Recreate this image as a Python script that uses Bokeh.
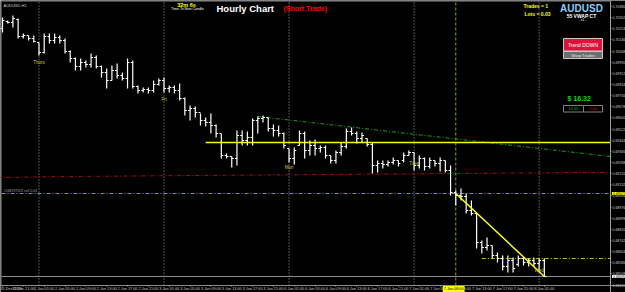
from bokeh.plotting import figure
from bokeh.models import Range1d, FixedTicker, PrintfTickFormatter, Label
from bokeh.embed import file_html
from bokeh.resources import INLINE
from bokeh.core.properties import value

# ---------------- data (AUDUSD H1, 31 Dec 2019 17:00 -> 8 Jan 2020 01:00) ----------------
high = [0.70303, 0.70282, 0.70317, 0.70296, 0.70191, 0.70177, 0.70177, 0.70128, 0.70191, 0.70191,
        0.70191, 0.70177, 0.70156, 0.70072, 0.70023, 0.70016, 0.70002, 0.70051, 0.70037, 0.69967,
        0.69946, 0.69967, 0.69981, 0.69918, 0.70016, 0.70002, 0.69827, 0.69813, 0.69813, 0.69862,
        0.69876, 0.69883, 0.69827, 0.69827, 0.69841, 0.69743, 0.69687, 0.69680, 0.69631, 0.69603,
        0.69631, 0.69554, 0.69491, 0.69351, 0.69330, 0.69512, 0.69512, 0.69505, 0.69596, 0.69610,
        0.69617, 0.69603, 0.69554, 0.69547, 0.69498, 0.69386, 0.69393, 0.69512, 0.69505, 0.69442,
        0.69449, 0.69407, 0.69407, 0.69337, 0.69372, 0.69428, 0.69526, 0.69533, 0.69505, 0.69498,
        0.69456, 0.69428, 0.69302, 0.69302, 0.69302, 0.69323, 0.69302, 0.69358, 0.69372, 0.69358,
        0.69337, 0.69323, 0.69323, 0.69302, 0.69323, 0.69302, 0.69267, 0.69092, 0.69106, 0.69071,
        0.69022, 0.68931, 0.68742, 0.68763, 0.68707, 0.68658, 0.68637, 0.68637, 0.68623, 0.68637,
        0.68623, 0.68616, 0.68623, 0.68616, 0.68616]
low = [0.70198, 0.70261, 0.70233, 0.70156, 0.70156, 0.70142, 0.70128, 0.70037, 0.70051, 0.70121,
       0.70121, 0.70121, 0.70051, 0.69988, 0.69932, 0.69932, 0.69953, 0.69953, 0.69946, 0.69883,
       0.69806, 0.69862, 0.69876, 0.69862, 0.69806, 0.69806, 0.69771, 0.69778, 0.69771, 0.69778,
       0.69827, 0.69778, 0.69778, 0.69771, 0.69722, 0.69617, 0.69582, 0.69603, 0.69547, 0.69540,
       0.69491, 0.69463, 0.69316, 0.69316, 0.69253, 0.69267, 0.69407, 0.69407, 0.69407, 0.69491,
       0.69568, 0.69505, 0.69470, 0.69470, 0.69386, 0.69288, 0.69274, 0.69407, 0.69316, 0.69337,
       0.69337, 0.69358, 0.69316, 0.69281, 0.69281, 0.69337, 0.69386, 0.69477, 0.69421, 0.69428,
       0.69400, 0.69211, 0.69218, 0.69246, 0.69260, 0.69274, 0.69260, 0.69288, 0.69337, 0.69232,
       0.69246, 0.69232, 0.69246, 0.69260, 0.69225, 0.69218, 0.69057, 0.68987, 0.69022, 0.68931,
       0.68917, 0.68686, 0.68651, 0.68672, 0.68616, 0.68588, 0.68532, 0.68518, 0.68518, 0.68560,
       0.68567, 0.68560, 0.68560, 0.68518, 0.68490]
open_ = [0.70226, 0.70275, 0.70268, 0.70289, 0.70170, 0.70177, 0.70156, 0.70128, 0.70058, 0.70170,
         0.70142, 0.70163, 0.70142, 0.70065, 0.70016, 0.69960, 0.69988, 0.69974, 0.70023, 0.69960,
         0.69918, 0.69862, 0.69932, 0.69897, 0.69876, 0.69988, 0.69820, 0.69792, 0.69799, 0.69792,
         0.69834, 0.69862, 0.69806, 0.69813, 0.69792, 0.69736, 0.69652, 0.69666, 0.69638, 0.69582,
         0.69568, 0.69547, 0.69491, 0.69337, 0.69330, 0.69316, 0.69477, 0.69442, 0.69463, 0.69582,
         0.69596, 0.69603, 0.69526, 0.69512, 0.69491, 0.69386, 0.69316, 0.69407, 0.69491, 0.69372,
         0.69407, 0.69386, 0.69393, 0.69337, 0.69302, 0.69358, 0.69400, 0.69505, 0.69491, 0.69456,
         0.69456, 0.69414, 0.69267, 0.69281, 0.69274, 0.69288, 0.69302, 0.69302, 0.69337, 0.69358,
         0.69267, 0.69316, 0.69260, 0.69302, 0.69281, 0.69302, 0.69232, 0.69078, 0.69057, 0.69050,
         0.68952, 0.68931, 0.68728, 0.68693, 0.68707, 0.68637, 0.68616, 0.68560, 0.68602, 0.68574,
         0.68616, 0.68588, 0.68602, 0.68581, 0.68602]
close = [0.70282, 0.70268, 0.70296, 0.70170, 0.70177, 0.70156, 0.70135, 0.70058, 0.70170, 0.70142,
         0.70163, 0.70142, 0.70065, 0.70016, 0.69960, 0.69988, 0.69974, 0.70023, 0.69960, 0.69918,
         0.69862, 0.69932, 0.69897, 0.69876, 0.69988, 0.69820, 0.69792, 0.69799, 0.69792, 0.69834,
         0.69862, 0.69806, 0.69813, 0.69792, 0.69736, 0.69652, 0.69666, 0.69638, 0.69582, 0.69568,
         0.69547, 0.69491, 0.69337, 0.69330, 0.69316, 0.69477, 0.69442, 0.69463, 0.69582, 0.69596,
         0.69603, 0.69526, 0.69512, 0.69491, 0.69407, 0.69316, 0.69372, 0.69491, 0.69372, 0.69407,
         0.69386, 0.69393, 0.69337, 0.69302, 0.69358, 0.69400, 0.69505, 0.69491, 0.69456, 0.69477,
         0.69414, 0.69267, 0.69281, 0.69274, 0.69288, 0.69302, 0.69281, 0.69337, 0.69358, 0.69267,
         0.69316, 0.69260, 0.69302, 0.69281, 0.69302, 0.69232, 0.69078, 0.69057, 0.69050, 0.68952,
         0.68931, 0.68728, 0.68693, 0.68707, 0.68637, 0.68616, 0.68560, 0.68602, 0.68546, 0.68616,
         0.68588, 0.68602, 0.68581, 0.68602, 0.68490]
bar = list(range(len(high)))

time_tick_bars = [0, 4, 8, 12, 16, 20, 24, 28, 32, 36, 40, 44, 48, 52, 56, 60, 64, 68, 72, 76,
                  80, 84, 88, 92, 96, 100, 104]
time_tick_labels = ["31 Dec 2019", "31 Dec 21:00", "2 Jan 01:00", "2 Jan 05:00", "2 Jan 09:00",
                    "2 Jan 13:00", "2 Jan 17:00", "2 Jan 21:00", "3 Jan 01:00", "3 Jan 05:00",
                    "3 Jan 09:00", "3 Jan 13:00", "3 Jan 17:00", "3 Jan 21:00", "6 Jan 01:00",
                    "6 Jan 05:00", "6 Jan 09:00", "6 Jan 13:00", "6 Jan 17:00", "6 Jan 21:00",
                    "7 Jan 01:00", "7 Jan 05:00", "7 Jan 09:00", "7 Jan 13:00", "7 Jan 17:00",
                    "7 Jan 21:00", "8 Jan 01:00"]
price_ticks = [0.70380, 0.70302, 0.70224, 0.70146, 0.70068, 0.69990, 0.69912, 0.69834, 0.69756,
               0.69678, 0.69600, 0.69522, 0.69444, 0.69366, 0.69288, 0.69210, 0.69132, 0.69054,
               0.68976, 0.68898, 0.68820, 0.68742, 0.68664, 0.68586, 0.68508, 0.68430]

day_sep_bars = [7, 31, 55, 79, 103]
day_names = ["Thurs", "Fri", "Mon", "Tues", "Wed"]
day_name_price = [0.69988, 0.69729, 0.69253, 0.69281, 0.68532]

resistance_level = 0.69428
resistance_start = 39
green_trend_x = [49, 116.7]
green_trend_y = [0.69610, 0.69330]
vwap_x = [-1, 13, 37, 112, 116.7]
vwap_y = [0.69183, 0.69190, 0.69197, 0.69218, 0.69218]
entry_price = 0.69071
entry_bar = 87
target_price = 0.68616
target_start = 92
bid_price = 0.68490
down_trend_x = [87, 104]
down_trend_y = [0.69071, 0.68490]

# ---------------- layout helpers (pixel <-> data for decorations) ----------------
W, H = 625, 292
PX0, PPB = 2.0, 5.21          # pixel of bar 0, pixels per bar
P_TOP, PPP = 0.70422, 0.00007  # price at pixel row 0, price per pixel
AX_X, AX_Y = 610, 285          # pixel column of price scale, pixel row of time scale


def X(px):
    return (px - PX0) / PPB


def Y(py):
    return P_TOP - py * PPP


FONT = "Liberation Sans"

p = figure(width=W, height=H, output_backend="svg", toolbar_location=None,
           x_range=Range1d(X(0), X(W)), y_range=Range1d(Y(H), Y(0)),
           y_axis_location="right",
           background_fill_color="black", border_fill_color="black",
           min_border_left=0, min_border_top=0, min_border_right=0, min_border_bottom=0,
           outline_line_color=None)
p.grid.visible = False

# bottom time axis (pinned to the chart's bottom edge)
xa = p.xaxis[0]
xa.fixed_location = Y(AX_Y)
xa.ticker = FixedTicker(ticks=time_tick_bars)
xa.major_label_overrides = {b: t for b, t in zip(time_tick_bars, time_tick_labels)}
xa.major_label_text_font_size = "3.8px"
xa.major_label_text_font = FONT
xa.major_label_text_color = "#c8c8c8"
xa.major_label_text_align = "left"
xa.major_label_standoff = 0
xa.major_tick_out = 1
xa.major_tick_in = 0
xa.minor_tick_out = 0
xa.minor_tick_in = 0
xa.major_tick_line_color = "#a0a0a0"
xa.axis_line_color = "#8c8c8c"

# right price axis (pinned to the price-scale column)
ya = p.yaxis[0]
ya.fixed_location = X(AX_X)
ya.ticker = FixedTicker(ticks=price_ticks)
ya.formatter = PrintfTickFormatter(format="%.5f")
ya.major_label_text_font_size = "3.5px"
ya.major_label_text_font = FONT
ya.major_label_text_color = "#c8c8c8"
ya.major_label_standoff = 1
ya.major_tick_out = 1
ya.major_tick_in = 0
ya.minor_tick_out = 0
ya.minor_tick_in = 0
ya.major_tick_line_color = "#a0a0a0"
ya.axis_line_color = "#a0a0a0"

# chart border (left / top)
p.line(x=[X(0.5), X(0.5)], y=[Y(AX_Y), Y(0)], line_color="#8c8c8c", line_width=1)
p.line(x=[X(0), X(AX_X)], y=[Y(0.5), Y(0.5)], line_color="#8c8c8c", line_width=1)

# day separators and entry-time line
p.segment(x0=day_sep_bars, x1=day_sep_bars, y0=Y(AX_Y), y1=Y(1), line_color="#a0a0a0",
          line_dash="1 2", line_width=1)
p.segment(x0=[entry_bar], x1=[entry_bar], y0=[Y(AX_Y)], y1=[Y(1)], line_color="#9a9a10",
          line_dash="3 2", line_width=1)

# horizontal levels
p.line(x=vwap_x, y=vwap_y, line_color="#a01010", line_dash="4 2 1 2", line_width=1)
p.line(x=[X(1), X(AX_X)], y=[entry_price, entry_price], line_color="#9a9a18",
       line_dash="4 2 1 2", line_width=1)
p.line(x=[target_start, X(AX_X)], y=[target_price, target_price], line_color="#b8b818",
       line_dash="4 2 1 2", line_width=1)
p.line(x=green_trend_x, y=green_trend_y, line_color="#12a012", line_dash="4 2 1 2", line_width=1)
p.line(x=[resistance_start, X(AX_X)], y=[resistance_level, resistance_level],
       line_color="#ffff00", line_width=1.5)
p.line(x=[X(1), X(AX_X)], y=[bid_price, bid_price], line_color="#8a8a8a", line_width=1)

# OHLC bars
bx_l = [b - 0.38 for b in bar]
bx_r = [b + 0.38 for b in bar]
p.segment(x0=bar, y0=low, x1=bar, y1=high, line_color="white", line_width=1.2)
p.segment(x0=bx_l, y0=open_, x1=bar, y1=open_, line_color="white", line_width=1.2)
p.segment(x0=bar, y0=close, x1=bx_r, y1=close, line_color="white", line_width=1.2)

# down trend line
p.line(x=down_trend_x, y=down_trend_y, line_color="#ffff00", line_width=1.5)

# day names
p.text(x=day_sep_bars, y=day_name_price, text=day_names, text_font=value(FONT),
       text_font_size="4.5px", text_color="#c8c832", text_align="center",
       text_baseline="middle")


def lab(px, py, text, size, color, bold=False, align="left", baseline="top", **kw):
    p.add_layout(Label(x=X(px), y=Y(py), text=text, text_font=FONT, text_font_size=size,
                       text_color=color, text_font_style="bold" if bold else "normal",
                       text_align=align, text_baseline=baseline, **kw))


# header texts
lab(3, 2, "AUDUSD,H1", "4px", "#c8c8c8")
lab(186, 1.5, "32m 6s", "5.5px", "#ffff00", bold=True, align="center")
lab(187, 6, "Time To New Candle", "3.5px", "#ffffff", align="center")
lab(216, 2, "Hourly Chart", "9.5px", "#ffffff", bold=True)
lab(283, 4, "(Short Trade)", "7px", "#ff0000", bold=True)
lab(523, 2.5, "Trades = 1", "5px", "#ffff00", bold=True)
lab(524, 10.5, "Lots = 0.03", "5px", "#ffff00", bold=True)
lab(581, 2, "AUDUSD", "10px", "#87cefa", bold=True, align="center")
lab(581, 12, "55 VWAP CT", "5px", "#ffffff", bold=True, align="center")
lab(582, 17.5, "- x1 -", "3.5px", "#ffffff", align="center")
lab(3, 192, "#248197523 sell 0.03", "3.5px", "#a0a0a0", baseline="bottom")

# panel widgets
p.quad(left=[X(563)], right=[X(602)], top=[Y(38)], bottom=[Y(50.5)],
       fill_color="#dc143c", line_color="#c8c8c8", line_width=1)
lab(582.5, 44.5, "Trend DOWN", "5px", "#ffffff", align="center", baseline="middle")
p.quad(left=[X(563)], right=[X(602)], top=[Y(51)], bottom=[Y(58)],
       fill_color="#6e6e6e", line_color="#c8c8c8", line_width=1)
lab(582.5, 54.5, "Show Trades", "4px", "#e6e6e6", align="center", baseline="middle")
lab(567, 94, "$  16.32", "7px", "#00dd00", bold=True)
p.quad(left=[X(563), X(583)], right=[X(583), X(602)], top=[Y(105), Y(105)],
       bottom=[Y(111.5), Y(111.5)], fill_color="black", line_color="#808080", line_width=1)
lab(573, 108.3, "16.30", "4px", "#00b000", align="center", baseline="middle")
lab(592.5, 108.3, "0.00", "4px", "#d00000", align="center", baseline="middle")

# price / time highlight tags on the scales
p.add_layout(Label(x=X(AX_X + 1.5), y=entry_price, text="0.69071", text_font=FONT,
                   text_font_size="3.5px", text_color="black", text_baseline="middle",
                   background_fill_color="#ffff00", padding=(1, 0)))
p.add_layout(Label(x=X(AX_X + 1.5), y=bid_price, text="0.68490", text_font=FONT,
                   text_font_size="3.5px", text_color="black", text_baseline="middle",
                   background_fill_color="#ffffff", padding=(1, 0)))
p.add_layout(Label(x=entry_bar - 2.5, y=Y(288.5), text="7 Jan 08:00", text_font=FONT,
                   text_font_size="3.8px", text_color="black", text_baseline="middle",
                   background_fill_color="#ffff00", padding=1))

open("out.html", "w").write(file_html(p, INLINE))
